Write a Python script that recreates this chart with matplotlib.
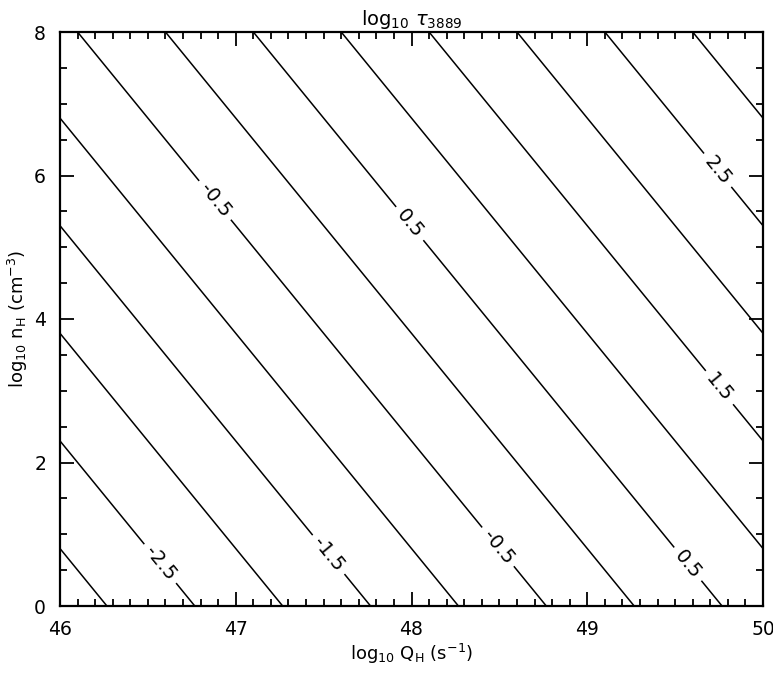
import matplotlib
matplotlib.use("Agg")
from matplotlib import pyplot as plt
from matplotlib.ticker import MultipleLocator
import numpy as np

# corners of the grid, tau (the field is a plane)
log_q = [46.0, 50.0]
log_n = [0.0, 8.0]
log_tau = [[-3.267, 0.733],
           [-0.600, 3.400]]

levels = [-3.0, -2.5, -2.0, -1.5, -1.0, -0.5, 0.0, 0.5, 1.0, 1.5, 2.0, 2.5, 3.0]
labelled = [-2.5, -1.5, -0.5, 0.5, 1.5, 2.5]
label_spots = [(46.58, 0.61), (47.53, 0.72), (48.49, 0.82), (49.57, 0.58),
               (46.88, 5.65), (47.99, 5.33), (49.75, 3.04), (49.74, 6.07)]

plt.rcParams['font.family'] = ['DejaVu Sans']
plt.rcParams['mathtext.fontset'] = 'dejavusans'

fig = plt.figure(figsize=(7.73, 6.75), dpi=100)
ax = fig.add_axes([60/773, 1 - 606/675, 703/773, 574/675])

Q, N = np.meshgrid(log_q, log_n)
Z = np.array(log_tau)
plain = [v for v in levels if v not in labelled]
style = dict(colors='black', linewidths=1.1, linestyles='solid',
             negative_linestyles='solid')
ax.contour(Q, N, Z, levels=plain, **style)
cs = ax.contour(Q, N, Z, levels=labelled, **style)
ax.clabel(cs, fmt='%.1f', fontsize=14, inline=True, inline_spacing=6,
          manual=label_spots)

ax.set_xlim(46, 50)
ax.set_ylim(0, 8)
ax.xaxis.set_major_locator(MultipleLocator(1))
ax.xaxis.set_minor_locator(MultipleLocator(0.1))
ax.yaxis.set_major_locator(MultipleLocator(2))
ax.yaxis.set_minor_locator(MultipleLocator(0.5))
ax.tick_params(which='both', direction='in', top=True, right=True, width=1.3)
ax.tick_params(which='major', length=10, labelsize=13.5, pad=10)
ax.tick_params(which='minor', length=5)
for sp in ax.spines.values():
    sp.set_linewidth(1.6)

# the last x label sits at the right edge of the image
fig.canvas.draw()
ax.xaxis.get_major_ticks()[-1].label1.set_horizontalalignment('right')

ax.set_xlabel(r'log$_{10}$ Q$_{\mathrm{H}}$ (s$^{-1}$)', fontsize=13, labelpad=2)
ax.set_ylabel(r'log$_{10}$ n$_{\mathrm{H}}$ (cm$^{-3}$)', fontsize=13)
ax.yaxis.set_label_coords(-0.043, 0.5)
ax.set_title(r'log$_{10}$ $\tau_{3889}$', fontsize=14, pad=5)

fig.savefig('out.png', dpi=100)
